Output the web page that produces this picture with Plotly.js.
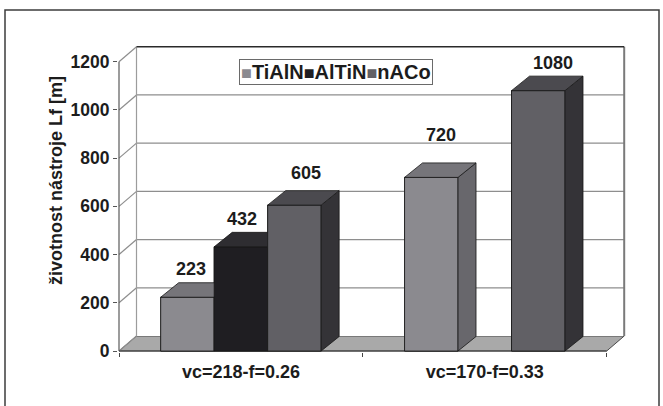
<!DOCTYPE html>
<html>
<head>
<meta charset="utf-8">
<script src="https://cdn.plot.ly/plotly-3.0.1.min.js"></script>
<style>html,body{margin:0;padding:0;background:#fff;}#chart{width:663px;height:406px;}</style>
</head>
<body>
<div id="chart"></div>
<script>
// ---- data ----
const categories = ['vc=218-f=0.26', 'vc=170-f=0.33'];
const seriesNames = ['TiAlN', 'AlTiN', 'nACo'];
const tialn = [223, 720];
const altin = [432, null];
const naco  = [605, 1080];
const yTicks = [0, 200, 400, 600, 800, 1000, 1200];
// label text nudges in px (style only)
const labelNudgeX = [[-5, -8, 3], [1, 0, 6]];
const labelNudgeY = [[0, -1, 4], [14, 0, -1]];

// ---- style / geometry ----
const W = 663, H = 406;
const M = {l: 118, r: 37, t: 40, b: 54};
const plotW = W - M.l - M.r, plotH = H - M.t - M.b;
const kx = 243.85;            // px per category unit
const ky = 289.3 / 1200;      // px per value unit
const xmin = -0.5 - 1 / kx, xmax = xmin + plotW / kx;
const ymin = -1 / ky, ymax = ymin + plotH / ky;
const wallDX = 17.5 / kx, wallDY = 15 / ky;
const barDX = 18 / kx, barDY = 14.5 / ky;
const bargap = 0.342;
const barW = (1 - bargap) / 3;
const xFront0 = -0.5, xFront1 = categories.length - 0.5;

const front = ['#8b8a8f', '#1f1e22', '#616065'];
const topC  = ['#76757a', '#2e2d31', '#4b4a4f'];
const sideC = ['#68676c', '#18171b', '#343337'];
const series = [tialn, altin, naco];
const FONT = 'Liberation Sans, Arial, sans-serif';
const TXT = '#1c1c1c';

function pxX(px) { return (px - M.l) / plotW; }
function pxY(py) { return (H - M.b - py) / plotH; }

// ---- traces ----
const data = [];
series.forEach((s, k) => {
  data.push({
    type: 'bar', name: seriesNames[k], x: categories.map((c, i) => i), y: s,
    marker: {color: front[k], line: {color: '#1a1a1a', width: 0.8}},
    showlegend: false, hovertemplate: seriesNames[k] + ': %{y}<extra></extra>'
  });
});
function poly(xs, ys, color) {
  data.push({type: 'scatter', mode: 'lines', x: xs.concat([xs[0]]), y: ys.concat([ys[0]]),
    fill: 'toself', fillcolor: color, line: {color: '#161616', width: 0.8},
    hoverinfo: 'skip', showlegend: false});
}
const annotations = [];
categories.forEach((c, i) => {
  series.forEach((s, k) => {
    const v = s[i];
    if (v === null || v === undefined) return;
    const xc = i + (k - 1) * barW;
    const xl = xc - barW / 2, xr = xc + barW / 2;
    poly([xl, xl, xr, xr], [0, v, v, 0], front[k]);
    poly([xr, xr, xr + barDX, xr + barDX], [0, v, v + barDY, barDY], sideC[k]);
    poly([xl, xl + barDX, xr + barDX, xr], [v, v + barDY, v + barDY, v], topC[k]);
    annotations.push({x: xc + barDX / 2, y: v + barDY, xref: 'x', yref: 'y', text: String(v),
      showarrow: false, xanchor: 'center', yanchor: 'middle',
      xshift: labelNudgeX[i][k], yshift: 14 + labelNudgeY[i][k],
      font: {family: FONT, size: 18, color: TXT, weight: 'bold'}});
  });
});

// ---- walls / gridlines as shapes below ----
const shapes = [];
const bx0 = xFront0 + wallDX, bx1 = xFront1 + wallDX;
shapes.push({type: 'path', layer: 'below', xref: 'x', yref: 'y',
  path: `M${xFront0},0 L${xFront1},0 L${bx1},${wallDY} L${bx0},${wallDY} Z`,
  fillcolor: '#a9a9a9', line: {color: '#4a4a4a', width: 1}});
shapes.push({type: 'rect', layer: 'below', xref: 'x', yref: 'y', x0: bx0, x1: bx1,
  y0: wallDY, y1: yTicks[yTicks.length - 1] + wallDY, fillcolor: '#ffffff', line: {width: 0}});
yTicks.forEach(v => {
  shapes.push({type: 'line', layer: 'below', xref: 'x', yref: 'y', x0: xFront0, y0: v,
    x1: bx0, y1: v + wallDY, line: {color: '#8e8e8e', width: 1.2}});
  if (v > 0 && v < yTicks[yTicks.length - 1]) {
    shapes.push({type: 'line', layer: 'below', xref: 'x', yref: 'y', x0: bx0, y0: v + wallDY,
      x1: bx1, y1: v + wallDY, line: {color: '#8e8e8e', width: 1.3}});
  }
});
const topV = yTicks[yTicks.length - 1];
shapes.push({type: 'line', layer: 'below', xref: 'x', yref: 'y', x0: bx0, y0: wallDY, x1: bx0, y1: topV + wallDY, line: {color: '#9c9c9c', width: 1.2}});
shapes.push({type: 'line', layer: 'below', xref: 'x', yref: 'y', x0: bx1, y0: wallDY, x1: bx1, y1: topV + wallDY, line: {color: '#7a7a7a', width: 2}});
shapes.push({type: 'line', layer: 'below', xref: 'x', yref: 'y', x0: bx0, y0: topV + wallDY, x1: bx1, y1: topV + wallDY, line: {color: '#2a2a2a', width: 1.6}});
shapes.push({type: 'line', layer: 'below', xref: 'x', yref: 'y', x0: xFront0, y0: 0, x1: xFront0, y1: topV, line: {color: '#5a5a5a', width: 1.2}});
shapes.push({type: 'line', layer: 'below', xref: 'x', yref: 'y', x0: xFront0, y0: 0, x1: xFront1, y1: 0, line: {color: '#3a3a3a', width: 1.2}});
// outer frame
shapes.push({type: 'rect', xref: 'paper', yref: 'paper', x0: pxX(5), x1: pxX(659), y0: pxY(430), y1: pxY(10),
  line: {color: '#3c3c3c', width: 1.5}, fillcolor: 'rgba(0,0,0,0)'});

// legend (boxed text) and y title
const legendText = seriesNames.map((n, k) =>
  `<span style="color:${front[k]};font-size:18px">■</span>${n}`).join('');
annotations.push({xref: 'paper', yref: 'paper', x: pxX(335.5), y: pxY(72.5), xanchor: 'center', yanchor: 'middle',
  text: legendText, showarrow: false, bordercolor: '#6a6a6a', borderwidth: 1, borderpad: 1, bgcolor: '#ffffff',
  font: {family: FONT, size: 20, color: TXT, weight: 'bold'}});
annotations.push({xref: 'paper', yref: 'paper', x: pxX(56), y: pxY(181), xanchor: 'center', yanchor: 'middle',
  text: 'životnost nástroje Lf [m]', textangle: -90, showarrow: false,
  font: {family: FONT, size: 18, color: TXT, weight: 'bold'}});

const layout = {
  width: W, height: H, margin: M, paper_bgcolor: '#ffffff', plot_bgcolor: 'rgba(0,0,0,0)',
  barmode: 'group', bargap: bargap, bargroupgap: 0, showlegend: false,
  font: {family: FONT, color: TXT},
  xaxis: {range: [xmin, xmax], tickmode: 'array', tickvals: categories.map((c, i) => i), ticktext: categories,
    ticks: '', showgrid: false, zeroline: false, showline: false, ticklabelstandoff: 7,
    tickfont: {family: FONT, size: 18, color: TXT, weight: 'bold'},
    minor: {tick0: -0.5, dtick: 1, ticks: 'outside', ticklen: 4, tickcolor: '#444', tickwidth: 1, showgrid: false}},
  yaxis: {range: [ymin, ymax], tickmode: 'array', tickvals: yTicks, ticks: 'outside', ticklen: 4,
    tickcolor: '#555', tickwidth: 1, showgrid: false, zeroline: false, showline: false,
    tickfont: {family: FONT, size: 17.5, color: TXT, weight: 'bold'}},
  shapes: shapes, annotations: annotations
};
Plotly.newPlot('chart', data, layout, {staticPlot: true, displayModeBar: false});
</script>
</body>
</html>
